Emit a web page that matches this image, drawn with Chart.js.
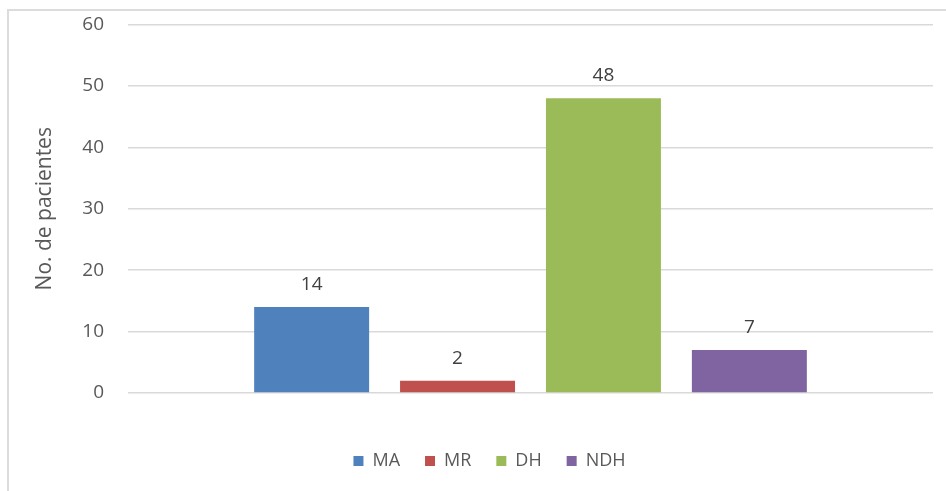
<!DOCTYPE html>
<html>
<head>
<meta charset="utf-8">
<script src="https://cdn.jsdelivr.net/npm/chart.js@4"></script>
<style>
  html, body { margin: 0; padding: 0; background: #fff; overflow: hidden; }
  #frame { position: absolute; left: 7px; top: 9px; width: 980px; height: 520px; border: 2px solid #dcdcdc; }
  #wrap { position: absolute; left: 0; top: 0; width: 946px; height: 491px; }
</style>
</head>
<body>
<div id="frame"></div>
<div id="wrap"><canvas id="myChart"></canvas></div>
<script>
var categorias = ['']
var series = ['MA', 'MR', 'DH', 'NDH']
var valores = [14, 2, 48, 7]
var cores = ['#4f81bd', '#c0504d', '#9bbb59', '#8064a2']
var yTicks = [0, 10, 20, 30, 40, 50, 60]

var fonte = "'Open Sans', 'Liberation Sans', sans-serif"
var corTexto = '#595959'

// escreve o valor em cima de cada barra
var rotulos = {
    id: 'rotulos',
    afterDatasetsDraw(chart) {
        var ctx = chart.ctx
        ctx.save()
        ctx.font = '19px ' + fonte
        ctx.fillStyle = '#404040'
        ctx.textAlign = 'center'
        ctx.textBaseline = 'alphabetic'
        chart.data.datasets.forEach((ds, i) => {
            var meta = chart.getDatasetMeta(i)
            meta.data.forEach((bar, j) => {
                ctx.fillText(ds.data[j], bar.x, bar.y - 17)
            })
        })
        ctx.restore()
    }
}

// legenda um pouco deslocada para a direita
var moveLegenda = {
    id: 'moveLegenda',
    afterLayout(chart) {
        chart.legend.left += 19
        chart.legend.right += 19
    }
}

var dataSets = series.map((nome, i) => {
    return {
        label: nome,
        data: [valores[i]],
        backgroundColor: cores[i],
        borderWidth: 0,
        barPercentage: 0.788,
        categoryPercentage: 0.725
    }
})

const ctx = document.getElementById('myChart')

var myChart = new Chart(ctx, {
    type: 'bar',
    data: {
        labels: categorias,
        datasets: dataSets
    },
    plugins: [rotulos, moveLegenda],
    options: {
        responsive: true,
        maintainAspectRatio: false,
        animation: false,
        layout: {
            padding: { left: 8, right: 13, top: 0, bottom: 11 }
        },
        plugins: {
            tooltip: { enabled: false },
            legend: {
                position: 'bottom',
                labels: {
                    boxWidth: 10,
                    boxHeight: 10,
                    padding: 25,
                    color: corTexto,
                    font: { family: fonte, size: 18 }
                }
            }
        },
        scales: {
            x: {
                afterFit: (s) => { s.height = 34 },
                grid: { display: false },
                border: { display: false },
                ticks: { display: false }
            },
            y: {
                min: 0,
                max: 60,
                afterBuildTicks: (s) => { s.ticks = yTicks.map(v => ({ value: v })) },
                afterFit: (s) => {
                    s.width = 120
                    s.paddingTop = 24.5
                    s.paddingBottom = 0
                },
                grid: { color: '#d9d9d9', lineWidth: 1.5, drawTicks: false },
                border: { display: false },
                ticks: {
                    padding: 24,
                    color: corTexto,
                    font: { family: fonte, size: 19 }
                },
                title: {
                    display: true,
                    text: 'No. de pacientes',
                    color: corTexto,
                    padding: { top: 24, bottom: 0 },
                    font: { family: fonte, size: 21 }
                }
            }
        }
    }
});
</script>
</body>
</html>
